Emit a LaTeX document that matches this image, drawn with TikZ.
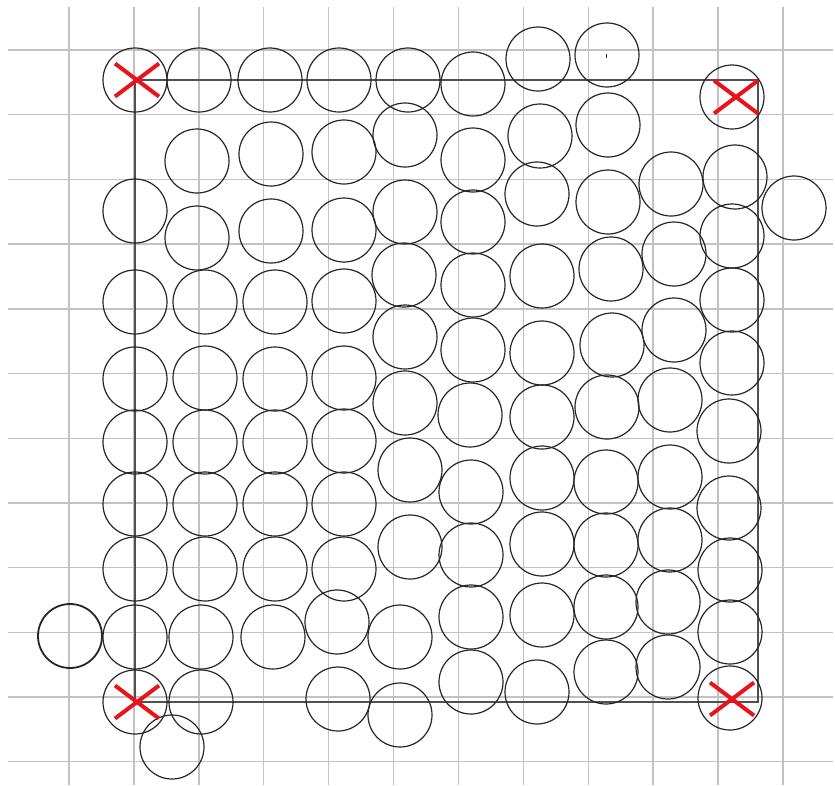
\documentclass[tikz,border=0pt]{standalone}
\usetikzlibrary{shapes.misc}
\definecolor{gridgray}{HTML}{C2C2C2}
\definecolor{framegray}{HTML}{505050}
\definecolor{ballblack}{HTML}{262626}
\definecolor{xred}{HTML}{E8131B}
\begin{document}
\begin{tikzpicture}[x=1pt,y=-1pt,
  gridline/.style={draw=gridgray, line width=1.4pt},
  frameline/.style={draw=framegray, line width=1.8pt},
  ball/.style={circle, draw=ballblack, line width=1.2pt, minimum size=64pt, inner sep=0pt},
  xmark/.style={cross out, draw=xred, line width=4pt, minimum width=40pt, minimum height=29pt, inner sep=0pt}]
\useasboundingbox (0,0) rectangle (835,785);
% grid
\foreach \i in {0,...,11} {
  \draw[gridline] ({69+64.9*\i},7) -- ({69+64.9*\i},785);
  \draw[gridline] (8,{50+64.7*\i}) -- (833,{50+64.7*\i});
}
% square
\draw[frameline] (135,80) rectangle (758,702);
% circles, column by column
\foreach \p [count=\i] in {(135,80),(135,211),(135,302),(135,379),(135,442),(135,504),(135,569),(135,637),(135,702)}
  \node[ball] (a\i) at \p {};
\foreach \p [count=\i] in {(199,80),(197,161),(197,238),(205,302),(205,378),(205,442),(205,504),(205,569),(201,637),(201,702),(172,747)}
  \node[ball] (b\i) at \p {};
\foreach \p [count=\i] in {(270,80),(271,154),(271,231),(275,302),(275,379),(275,442),(275,504),(275,569),(273,637)}
  \node[ball] (c\i) at \p {};
\foreach \p [count=\i] in {(339,80),(344,152),(344,230),(344,301),(344,378),(344,441),(344,504),(344,569),(337,622),(338,699)}
  \node[ball] (d\i) at \p {};
\foreach \p [count=\i] in {(408,80),(405,135),(405,212),(404,275),(405,337),(405,403),(410,470),(410,547),(400,637),(400,715)}
  \node[ball] (e\i) at \p {};
\foreach \p [count=\i] in {(473,84),(473,160),(473,222),(473,285),(473,350),(470,415),(471,492),(471,555),(471,617),(471,682)}
  \node[ball] (f\i) at \p {};
\foreach \p [count=\i] in {(538,59),(540,136),(537,194),(542,276),(542,353),(542,417),(542,478),(542,544),(542,615),(537,692)}
  \node[ball] (g\i) at \p {};
\foreach \p [count=\i] in {(607,55),(608,125),(608,202),(611,269),(612,345),(607,407),(606,482),(606,545),(606,607),(606,672)}
  \node[ball] (h\i) at \p {};
\foreach \p [count=\i] in {(671,184),(674,254),(674,330),(670,400),(670,477),(670,540),(668,602),(668,667)}
  \node[ball] (k\i) at \p {};
\foreach \p [count=\i] in {(732,97),(735,177),(732,236),(732,300),(732,363),(729,431),(729,508),(730,570),(730,632),(730,698)}
  \node[ball] (m\i) at \p {};
\node[ball] (outright) at (794,208) {};
\node[ball, line width=1.8pt] (outleft) at (70,636) {};
\draw[draw=ballblack, line width=1pt] (606,54) -- (606,58);
% corner marks
\node[xmark] (xa) at (137,80) {};
\node[xmark] (xb) at (736,97) {};
\node[xmark] (xc) at (137,702) {};
\node[xmark] (xd) at (732,699) {};
\end{tikzpicture}
\end{document}
